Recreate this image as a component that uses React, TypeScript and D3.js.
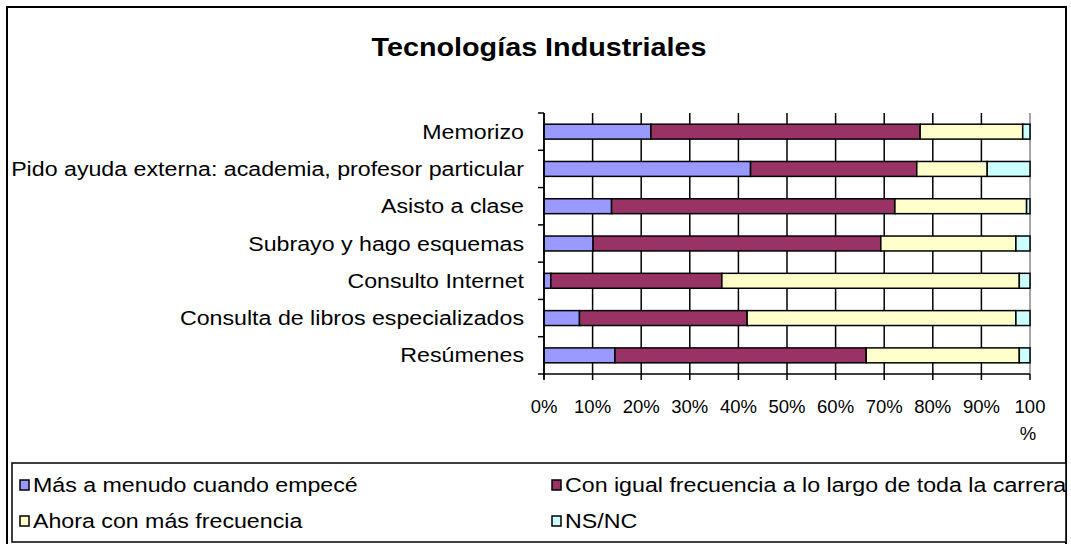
import React from "react";
import * as d3 from "d3";

const title = "Tecnologías Industriales";
const categories = [
  "Memorizo",
  "Pido ayuda externa: academia, profesor particular",
  "Asisto a clase",
  "Subrayo y hago esquemas",
  "Consulto Internet",
  "Consulta de libros especializados",
  "Resúmenes",
];
const seriesNames = [
  "Más a menudo cuando empecé",
  "Con igual frecuencia a lo largo de toda la carrera",
  "Ahora con más frecuencia",
  "NS/NC",
];
const masMenudo = [22.0, 42.5, 13.9, 10.1, 1.4, 7.3, 14.6];
const igualFrecuencia = [55.4, 34.2, 58.3, 59.2, 35.2, 34.5, 51.7];
const ahoraMas = [21.1, 14.5, 27.1, 27.8, 61.2, 55.3, 31.5];
const nsnc = [1.5, 8.8, 0.7, 2.9, 2.2, 2.9, 2.2];
const tickValues = [0, 10, 20, 30, 40, 50, 60, 70, 80, 90, 100];
const colors = ["#9999FF", "#993366", "#FFFFCC", "#CCFFFF"];

function SText(props: { x: number; y: number; sx: number; anchor?: string; size: number; bold?: boolean; children: any }) {
  return (
    <text
      transform={`translate(${props.x},${props.y}) scale(${props.sx},1)`}
      textAnchor={props.anchor || "start"}
      fontSize={props.size}
      fontWeight={props.bold ? "bold" : "normal"}
      fill="#000"
    >
      {props.children}
    </text>
  );
}

export default function App() {
  const W = 1071;
  const H = 544;
  const x0 = 544, x1 = 1030, yTop = 113, yBot = 374;
  const x = d3.scaleLinear().domain([0, 100]).range([x0, x1]);
  const y = d3.scaleBand<string>().domain(categories).range([yTop, yBot]).paddingInner(0.6).paddingOuter(0.3);
  const table = categories.map((c, i) => ({
    cat: c,
    v: [masMenudo[i], igualFrecuencia[i], ahoraMas[i], nsnc[i]],
  }));
  const stack = d3.stack<any>().keys(["0", "1", "2", "3"]).value((d: any, k: string) => d.v[+k]);
  const stacked = stack(table);
  const step = y.step();
  const font = "Liberation Sans, Arial, sans-serif";
  const legendItems = [
    { x: 20, y: 492 },
    { x: 552, y: 492 },
    { x: 20, y: 528 },
    { x: 552, y: 528 },
  ];
  const SX = 1.16;
  return (
    <svg width={W} height={H} style={{ position: "absolute", left: 0, top: 0, background: "#fff" }} fontFamily={font}>
      <rect x={0} y={0} width={W} height={H} fill="#fff" />
      <rect x={7} y={7} width={1059} height={545} fill="none" stroke="#000" strokeWidth={2} />
      <SText x={539} y={56} sx={1.15} anchor="middle" size={25} bold>{title}</SText>
      {/* gridlines */}
      {tickValues.map((t) => (
        <line key={"g" + t} x1={x(t)} x2={x(t)} y1={yTop} y2={yBot} stroke={t === 100 ? "#888" : "#000"} strokeWidth={1.5} />
      ))}
      {/* bars */}
      {stacked.map((s, si) =>
        s.map((d: any, i: number) => (
          <rect key={si + "-" + i} x={x(d[0])} y={y(categories[i])!} width={x(d[1]) - x(d[0])} height={y.bandwidth()} fill={colors[si]} stroke="#000" strokeWidth={1.5} />
        ))
      )}
      {/* left axis */}
      <line x1={x0} x2={x0} y1={yTop} y2={yBot + 5} stroke="#000" strokeWidth={1.5} />
      {d3.range(categories.length + 1).map((i) => (
        <line key={"yt" + i} x1={x0 - 6} x2={x0} y1={yTop + i * step} y2={yTop + i * step} stroke="#000" strokeWidth={1.5} />
      ))}
      {categories.map((c) => (
        <SText key={c} x={524} y={y(c)! + y.bandwidth() / 2 + 7} sx={SX} anchor="end" size={20}>{c}</SText>
      ))}
      {/* bottom axis */}
      <line x1={x0} x2={x1} y1={yBot} y2={yBot} stroke="#000" strokeWidth={1.5} />
      {tickValues.map((t) => (
        <line key={"xt" + t} x1={x(t)} x2={x(t)} y1={yBot} y2={yBot + 6} stroke="#000" strokeWidth={1.5} />
      ))}
      {tickValues.map((t) =>
        t === 100 ? (
          <g key={"tl" + t}>
            <SText x={x(t)} y={413} sx={1} anchor="middle" size={18.5}>100</SText>
            <SText x={x(t) - 2} y={440} sx={1} anchor="middle" size={18.5}>%</SText>
          </g>
        ) : (
          <SText key={"tl" + t} x={x(t)} y={413} sx={1} anchor="middle" size={18.5}>{t + "%"}</SText>
        )
      )}
      {/* legend */}
      <rect x={12} y={463} width={1054} height={79} fill="#fff" stroke="#000" strokeWidth={1.5} />
      {seriesNames.map((n, i) => (
        <g key={n}>
          <rect x={legendItems[i].x} y={legendItems[i].y - 12} width={9} height={10} fill={colors[i]} stroke="#000" strokeWidth={1.5} />
          <SText x={legendItems[i].x + 13} y={legendItems[i].y} sx={SX} size={20}>{n}</SText>
        </g>
      ))}
    </svg>
  );
}
